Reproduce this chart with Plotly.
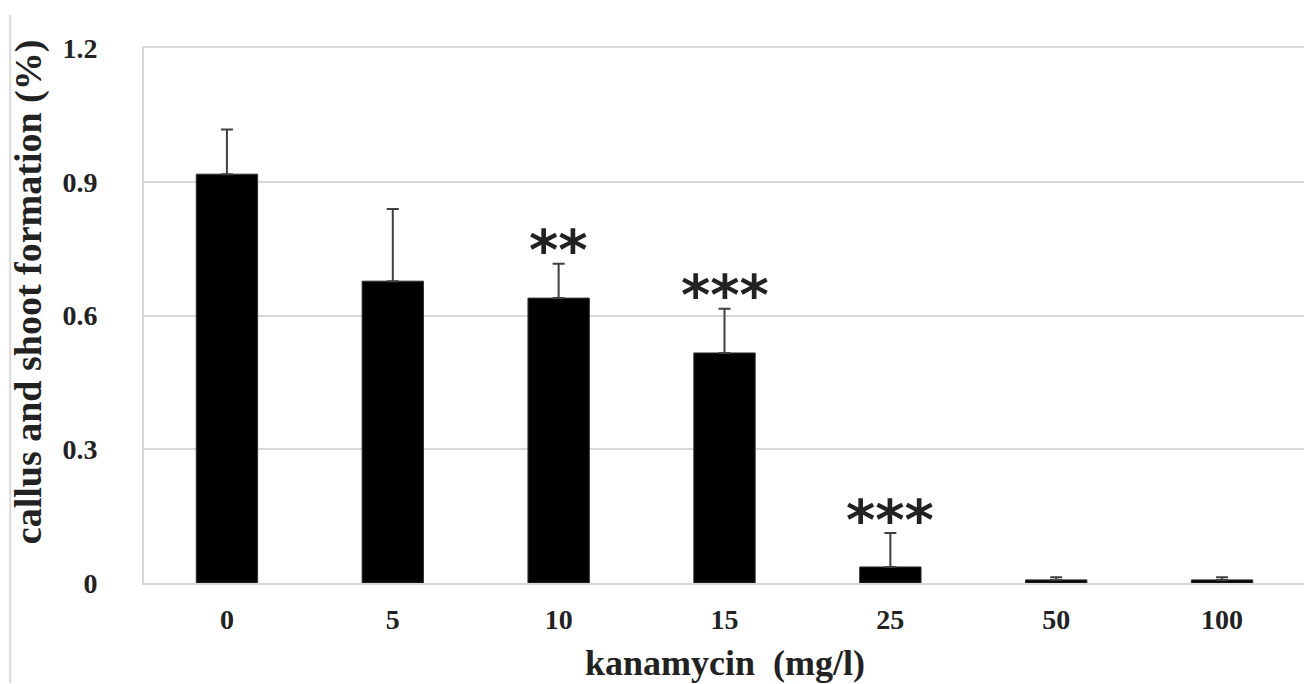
import plotly.graph_objects as go

categories = ["0", "5", "10", "15", "25", "50", "100"]
values = [0.917, 0.677, 0.639, 0.516, 0.036, 0.007, 0.007]
errors = [0.100, 0.162, 0.077, 0.099, 0.076, 0.006, 0.006]
stars = ["", "", "**", "***", "***", "", ""]
y_ticks = [0, 0.3, 0.6, 0.9, 1.2]
y_ticktext = ["0", "0.3", "0.6", "0.9", "1.2"]

PLOT_H = 535.0
PLOT_W = 1163.0

fig = go.Figure()
fig.add_trace(go.Bar(
    x=list(range(len(categories))), y=values,
    marker=dict(color="black", line=dict(color="#333333", width=1)),
    error_y=dict(type="data", array=errors, symmetric=False, arrayminus=[0]*len(errors),
                 color="#404040", thickness=2, width=6),
    showlegend=False,
))

for i, (v, e, s) in enumerate(zip(values, errors, stars)):
    if s:
        fig.add_annotation(x=i, y=v + e, text=s, showarrow=False,
                           xanchor="center", yanchor="middle", yshift=14,
                           font=dict(family="DejaVu Sans", size=56, weight="bold", color="#222222"))

# axis titles
fig.add_annotation(xref="paper", yref="paper", x=0.5, y=(583-663)/PLOT_H,
                   text="<b>kanamycin  (mg/l)</b>", showarrow=False,
                   xanchor="center", yanchor="middle",
                   font=dict(family="Liberation Serif", size=36, color="#222222"))
fig.add_annotation(xref="paper", yref="paper", x=-(144-28)/PLOT_W, y=(583-292)/PLOT_H,
                   text="<b>callus and shoot formation (%)</b>", showarrow=False,
                   textangle=-90, xanchor="center", yanchor="middle",
                   font=dict(family="Liberation Serif", size=38, color="#222222"))

fig.add_shape(type="line", xref="paper", yref="paper",
              x0=-134/PLOT_W, x1=-134/PLOT_W, y0=-100/PLOT_H, y1=(583-15)/PLOT_H,
              line=dict(color="#d9d9d9", width=2))

fig.update_layout(
    width=1304, height=676,
    margin=dict(l=136, r=5, t=40, b=101),
    paper_bgcolor="white", plot_bgcolor="white",
    bargap=0.63,
    font=dict(family="Liberation Serif", color="#222222"),
    xaxis=dict(
        range=[-0.5, len(categories) - 0.5],
        tickvals=list(range(len(categories))), ticktext=categories,
        tickfont=dict(size=28, family="Liberation Serif", weight="bold", color="#222222"),
        showline=True, linecolor="#d9d9d9", linewidth=2, mirror=True,
        showgrid=False, zeroline=False,
        ticks="", ticklabelstandoff=10,
    ),
    yaxis=dict(
        range=[0, 1.2], tickvals=y_ticks, ticktext=y_ticktext,
        tickfont=dict(size=28, family="Liberation Serif", weight="bold", color="#222222"),
        showgrid=True, gridcolor="#d9d9d9", gridwidth=2,
        showline=True, linecolor="#d9d9d9", linewidth=2, mirror=True,
        zeroline=False, ticks="", ticklabelstandoff=39,
    ),
)

fig.write_html("out.html")
